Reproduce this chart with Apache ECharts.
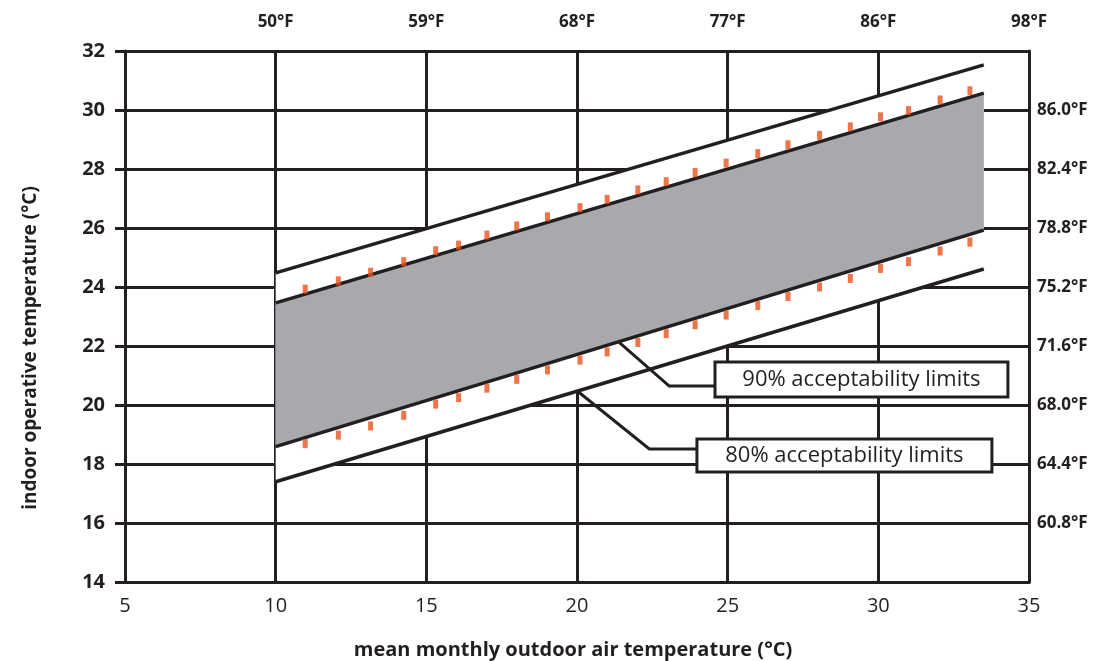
<!DOCTYPE html>
<html>
<head>
<meta charset="utf-8">
<script src="https://cdn.jsdelivr.net/npm/echarts@6/dist/echarts.min.js"></script>
<style>
html,body{margin:0;padding:0;background:#fff;}
#chart{width:1109px;height:661px;}
</style>
</head>
<body>
<div id="chart"></div>
<script>
// ---- data ----
var lineX = [10, 33.5];
var limit80Upper = [24.48, 31.53];
var limit90Upper = [23.46, 30.57];
var limit90Lower = [18.59, 25.93];
var limit80Lower = [17.40, 24.61];

var dashX = [10.98, 12.08, 13.15, 14.25, 15.31, 16.07, 17.01, 18.0, 19.02, 20.1, 21.0, 22.02, 22.96, 23.92, 24.95, 26.0, 27.0, 28.05, 29.07, 30.07, 31.0, 32.05, 33.04];
var dashUpper = [23.93, 24.21, 24.50, 24.86, 25.23, 25.42, 25.76, 26.07, 26.38, 26.69, 26.97, 27.29, 27.57, 27.88, 28.20, 28.52, 28.82, 29.14, 29.43, 29.77, 29.98, 30.34, 30.65];
var dashLower = [18.69, 18.98, 19.29, 19.65, 20.03, 20.25, 20.57, 20.87, 21.19, 21.52, 21.80, 22.12, 22.42, 22.72, 23.05, 23.37, 23.68, 24.00, 24.29, 24.63, 24.86, 25.22, 25.52];

var topTickValues = [10, 15, 20, 25, 30, 35];
var topTickLabels = ['50°F', '59°F', '68°F', '77°F', '86°F', '98°F'];
var rightTickValues = [16, 18, 20, 22, 24, 26, 28, 30];
var rightTickLabels = ['60.8°F', '64.4°F', '68.0°F', '71.6°F', '75.2°F', '78.8°F', '82.4°F', '86.0°F'];

var annoLabels = ['90% acceptability limits', '80% acceptability limits'];
// [anchorX, anchorY, elbowX, elbowY, boxLeft, boxTop, boxRight, boxBottom]
var anno90 = [21.4, 22.12, 23.06, 20.64, 24.58, 21.46, 34.3, 20.27];
var anno80 = [20.05, 20.44, 22.40, 18.51, 23.98, 18.85, 33.77, 17.73];

// ---- chart ----
var INK = '#231f20';
var FONT = '"Open Sans", "Noto Sans", sans-serif';

function band(upper, lower, color, z) {
  return {
    type: 'custom', z: z, silent: true,
    data: [0],
    renderItem: function (params, api) {
      var pts = [
        api.coord([lineX[0], upper[0]]),
        api.coord([lineX[1], upper[1]]),
        api.coord([lineX[1], lower[1]]),
        api.coord([lineX[0], lower[0]])
      ];
      return { type: 'polygon', shape: { points: pts }, style: { fill: color, stroke: null } };
    }
  };
}
function limitLine(vals) {
  return {
    type: 'line', z: 5, silent: true, symbol: 'none',
    data: [[lineX[0], vals[0]], [lineX[1], vals[1]]],
    lineStyle: { color: INK, width: 3.5 }
  };
}
function dashes(vals) {
  return {
    type: 'scatter', z: 6, silent: true,
    symbol: 'rect', symbolSize: [5, 9],
    itemStyle: { color: '#e8521b' },
    data: dashX.map(function (x, i) { return [x, vals[i]]; })
  };
}
var annos = [anno90, anno80];

var option = {
  animation: false,
  backgroundColor: '#fff',
  textStyle: { fontFamily: FONT },
  grid: { left: 125, right: 80, top: 51, bottom: 79 },
  xAxis: [{
    type: 'value', position: 'bottom', min: 5, max: 35, interval: 5,
    axisLine: { show: true, lineStyle: { color: INK, width: 3 } },
    axisTick: { show: false },
    splitLine: { show: true, lineStyle: { color: INK, width: 3 } },
    axisLabel: { color: INK, fontSize: 20, fontWeight: 500, fontFamily: FONT, margin: 14 }
  }, {
    type: 'value', position: 'top', min: 5, max: 35, interval: 5,
    axisLine: { show: true, lineStyle: { color: INK, width: 3 } },
    axisTick: { show: false },
    splitLine: { show: false },
    axisLabel: {
      color: INK, fontSize: 17, fontWeight: 'bold', fontFamily: FONT, margin: 20,
      formatter: function (v) { var i = topTickValues.indexOf(v); return i < 0 ? '' : topTickLabels[i]; }
    }
  }],
  yAxis: [{
    type: 'value', position: 'left', min: 14, max: 32, interval: 2,
    axisLine: { show: true, lineStyle: { color: INK, width: 3 } },
    axisTick: { show: true, length: 10, lineStyle: { color: INK, width: 3 } },
    splitLine: { show: true, lineStyle: { color: INK, width: 3 } },
    axisLabel: { color: INK, fontSize: 20, fontWeight: 'bold', fontFamily: FONT, margin: 20 }
  }, {
    type: 'value', position: 'right', min: 14, max: 32, interval: 2,
    axisLine: { show: true, lineStyle: { color: INK, width: 3 } },
    axisTick: { show: false },
    splitLine: { show: false },
    axisLabel: {
      color: INK, fontSize: 17, fontWeight: 'bold', fontFamily: FONT, margin: 8,
      formatter: function (v) { var i = rightTickValues.indexOf(v); return i < 0 ? '' : rightTickLabels[i]; }
    }
  }],
  graphic: [{
    type: 'text', rotation: Math.PI / 2,
    x: 31, y: 348,
    style: { text: 'indoor operative temperature (°C)', font: 'bold 19px ' + FONT, fill: INK, align: 'center', verticalAlign: 'middle' }
  }, {
    type: 'text',
    x: 573, y: 650,
    style: { text: 'mean monthly outdoor air temperature (°C)', font: 'bold 20px ' + FONT, fill: INK, align: 'center', verticalAlign: 'middle' }
  }],
  series: [
    band(limit80Upper, limit80Lower, '#ffffff', 2),
    band(limit90Upper, limit90Lower, '#a7a9ac', 3),
    limitLine(limit80Upper),
    limitLine(limit90Upper),
    limitLine(limit90Lower),
    limitLine(limit80Lower),
    dashes(dashUpper),
    dashes(dashLower),
    {
      type: 'custom', z: 10, silent: true,
      data: [0, 1],
      renderItem: function (params, api) {
        var a = annos[params.dataIndex];
        var p0 = api.coord([a[0], a[1]]);
        var p1 = api.coord([a[2], a[3]]);
        var b0 = api.coord([a[4], a[5]]);
        var b1 = api.coord([a[6], a[7]]);
        return {
          type: 'group',
          children: [{
            type: 'polyline',
            shape: { points: [p0, p1, [b0[0], p1[1]]] },
            style: { stroke: INK, lineWidth: 3, fill: null }
          }, {
            type: 'rect',
            shape: { x: b0[0], y: b0[1], width: b1[0] - b0[0], height: b1[1] - b0[1] },
            style: { fill: '#fff', stroke: INK, lineWidth: 3 }
          }, {
            type: 'text',
            x: (b0[0] + b1[0]) / 2, y: (b0[1] + b1[1]) / 2,
            style: { text: annoLabels[params.dataIndex], font: '22px ' + FONT, fill: INK, align: 'center', verticalAlign: 'middle' }
          }]
        };
      }
    }
  ]
};
var chart = echarts.init(document.getElementById('chart'), null, { renderer: 'canvas' });
chart.setOption(option);
</script>
</body>
</html>
